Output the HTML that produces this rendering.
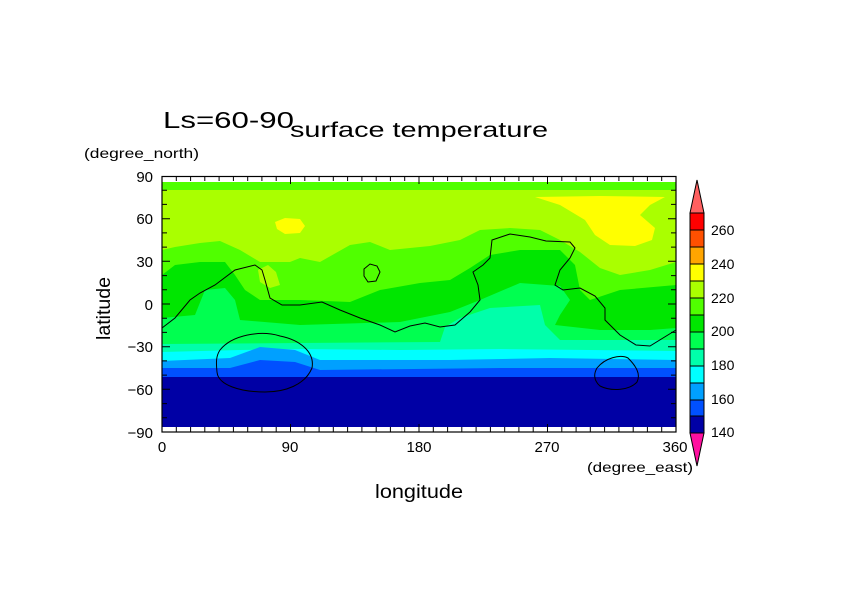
<!DOCTYPE html>
<html><head><meta charset="utf-8"><style>
html,body{margin:0;padding:0;background:#fff;}
svg{display:block;}
text{font-family:"Liberation Sans",sans-serif;fill:#000;}
</style></head><body>
<svg width="842" height="595" viewBox="0 0 842 595" xmlns="http://www.w3.org/2000/svg">
<defs><clipPath id="c"><rect x="162" y="182" width="514" height="245"/></clipPath></defs>
<g clip-path="url(#c)">
<rect x="162" y="182" width="514" height="245" fill="#aaff00"/>
<rect x="162" y="182" width="514" height="8" fill="#50ff00"/>
<polygon fill="#ffff00" points="275,222 285,218 300,219 305,226 300,233 285,234 277,229"/>
<polygon fill="#ffff00" points="535,197 600,196 665,197 650,205 640,215 655,228 652,240 635,246 610,245 595,235 585,220 560,205"/>
<polygon fill="#50ff00" points="162,250 175,247 200,243 220,241 240,250 260,262 290,262 300,258 320,262 350,245 370,242 390,250 410,248 430,246 460,240 480,230 510,228 540,230 560,240 580,252 600,268 620,275 650,270 676,262 676,430 162,430"/>
<polygon fill="#aaff00" points="258,270 268,265 276,272 280,285 270,288 260,282"/>
<polygon fill="#00e600" points="162,275 175,265 200,262 225,262 235,275 245,290 260,300 300,300 350,302 380,290 420,283 450,280 470,268 490,255 520,250 560,250 575,265 580,290 590,300 620,290 676,285 676,430 162,430"/>
<polygon fill="#50ff00" points="365,268 372,265 378,272 375,280 368,282"/>
<polygon fill="#00ff50" points="162,318 195,315 205,290 225,288 235,300 240,320 300,325 400,322 450,312 480,300 520,283 560,286 570,300 560,315 555,325 600,330 650,330 676,328 676,430 162,430"/>
<polygon fill="#00ffaa" points="162,344 440,342 445,327 460,318 490,308 540,305 545,325 560,340 676,340 676,430 162,430"/>
<polygon fill="#00ffff" points="162,352 240,350 300,349 400,350 500,349 676,351 676,430 162,430"/>
<polygon fill="#00a0ff" points="162,361 230,358 260,347 295,350 320,360 450,360 550,358 676,360 676,430 162,430"/>
<polygon fill="#0050ff" points="162,368 230,368 260,360 295,362 320,370 500,368 676,368 676,430 162,430"/>
<polygon fill="#0000a5" points="162,377 676,377 676,430 162,430"/>
</g>
<g fill="none" stroke="#000" stroke-width="1">
<polyline points="162,328 175,318 190,300 200,293 215,285 235,270 255,265 262,270 265,280 270,298 282,305 300,305 322,302 340,310 360,318 380,325 395,332 410,326 425,323 440,327 455,325 470,312 480,300 478,285 473,272 483,265 490,258 492,240 510,234 530,237 546,241 570,242 575,248 570,258 560,270 555,285 563,290 580,288 595,296 605,308 605,320 620,335 636,345 650,346 676,330"/>
<polygon points="364,269 370,264 377,266 380,272 376,281 368,282 364,276"/>
<path d="M220,350 C232,335 260,330 280,336 C300,340 315,352 312,368 C305,385 285,392 265,392 C240,392 218,385 217,372 C216,362 216,356 220,350 Z"/>
<path d="M597,368 C605,358 620,354 628,358 C636,366 641,374 637,382 C630,390 612,392 600,386 C593,380 594,373 597,368 Z"/>
</g>
<rect x="162" y="176.5" width="514" height="255.5" fill="none" stroke="#000" stroke-width="1.2"/>
<path fill="none" stroke="#000" stroke-width="1" d="
M176.3 176v5M190.6 176v5M204.8 176v5M219.1 176v5M233.4 176v5M247.7 176v5M261.9 176v5M276.2 176v5M290.5 176v8M304.8 176v5M319.1 176v5M333.3 176v5M347.6 176v5M361.9 176v5M376.2 176v5M390.4 176v5M404.7 176v5M419 176v8M433.3 176v5M447.6 176v5M461.8 176v5M476.1 176v5M490.4 176v5M504.7 176v5M518.9 176v5M533.2 176v5M547.5 176v8M561.8 176v5M576.1 176v5M590.3 176v5M604.6 176v5M618.9 176v5M633.2 176v5M647.4 176v5M661.7 176v5
M176.3 432v-5M190.6 432v-5M204.8 432v-5M219.1 432v-5M233.4 432v-5M247.7 432v-5M261.9 432v-5M276.2 432v-5M290.5 432v-8M304.8 432v-5M319.1 432v-5M333.3 432v-5M347.6 432v-5M361.9 432v-5M376.2 432v-5M390.4 432v-5M404.7 432v-5M419 432v-8M433.3 432v-5M447.6 432v-5M461.8 432v-5M476.1 432v-5M490.4 432v-5M504.7 432v-5M518.9 432v-5M533.2 432v-5M547.5 432v-8M561.8 432v-5M576.1 432v-5M590.3 432v-5M604.6 432v-5M618.9 432v-5M633.2 432v-5M647.4 432v-5M661.7 432v-5
M162 190.2h5M162 204.4h5M162 218.7h8M162 232.9h5M162 247.1h5M162 261.3h8M162 275.6h5M162 289.8h5M162 304h8M162 318.2h5M162 332.4h5M162 346.7h8M162 360.9h5M162 375.1h5M162 389.3h8M162 403.6h5M162 417.8h5
M676 190.2h-5M676 204.4h-5M676 218.7h-8M676 232.9h-5M676 247.1h-5M676 261.3h-8M676 275.6h-5M676 289.8h-5M676 304h-8M676 318.2h-5M676 332.4h-5M676 346.7h-8M676 360.9h-5M676 375.1h-5M676 389.3h-8M676 403.6h-5M676 417.8h-5"/>
<g font-size="15" text-anchor="end">
<text x="153" y="182">90</text><text x="153" y="224">60</text><text x="153" y="267">30</text>
<text x="153" y="310">0</text><text x="153" y="352">−30</text><text x="153" y="395">−60</text><text x="153" y="438">−90</text>
</g>
<g font-size="15" text-anchor="middle">
<text x="162" y="452">0</text><text x="290" y="452">90</text><text x="419" y="452">180</text>
<text x="547" y="452">270</text><text x="675" y="452">360</text>
</g>
<text x="163" y="128" font-size="23" textLength="131" lengthAdjust="spacingAndGlyphs">Ls=60-90</text>
<text x="290" y="137" font-size="21" textLength="258" lengthAdjust="spacingAndGlyphs">surface temperature</text>
<text x="84" y="158" font-size="14" textLength="115" lengthAdjust="spacingAndGlyphs">(degree_north)</text>
<text x="587" y="472" font-size="14" textLength="106" lengthAdjust="spacingAndGlyphs">(degree_east)</text>
<text x="375" y="498" font-size="19" textLength="88" lengthAdjust="spacingAndGlyphs">longitude</text>
<text x="0" y="0" font-size="19" transform="translate(110,340) rotate(-90)" textLength="63" lengthAdjust="spacingAndGlyphs">latitude</text>
<g stroke="#000" stroke-width="1">
<polygon points="697,180 704,213 690,213" fill="#ff6060"/>
<rect x="690" y="213" width="14" height="17" fill="#ff0000"/>
<rect x="690" y="230" width="14" height="17" fill="#ff5000"/>
<rect x="690" y="247" width="14" height="17" fill="#ffa500"/>
<rect x="690" y="264" width="14" height="17" fill="#ffff00"/>
<rect x="690" y="281" width="14" height="17" fill="#aaff00"/>
<rect x="690" y="298" width="14" height="17" fill="#50ff00"/>
<rect x="690" y="315" width="14" height="17" fill="#00e600"/>
<rect x="690" y="332" width="14" height="17" fill="#00ff50"/>
<rect x="690" y="349" width="14" height="17" fill="#00ffaa"/>
<rect x="690" y="366" width="14" height="17" fill="#00ffff"/>
<rect x="690" y="383" width="14" height="17" fill="#00a0ff"/>
<rect x="690" y="400" width="14" height="16" fill="#0050ff"/>
<rect x="690" y="416" width="14" height="17" fill="#0000a5"/>
<polygon points="690,433 704,433 697,466" fill="#ff10a0"/>
</g>
<g font-size="14">
<text x="711" y="235">260</text><text x="711" y="269">240</text><text x="711" y="303">220</text>
<text x="711" y="336">200</text><text x="711" y="370">180</text><text x="711" y="404">160</text><text x="711" y="437">140</text>
</g>
</svg>
</body></html>
